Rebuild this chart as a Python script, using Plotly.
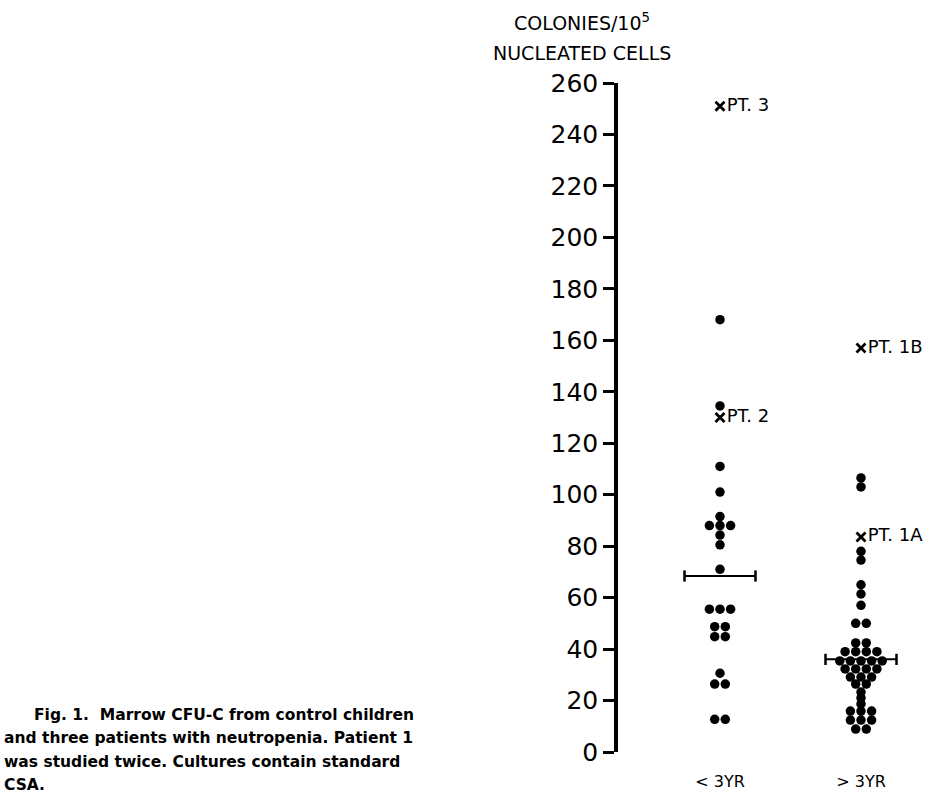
import plotly.graph_objects as go

# ---------------- data ----------------
categories = ["< 3YR", "> 3YR"]
under3_values = [168, 134.5, 111, 101, 91.5, 88, 88, 88, 84.3, 80.5, 71,
                 55.5, 55.5, 55.5, 48.7, 48.7, 44.8, 44.8, 30.6, 26.4, 26.4,
                 12.7, 12.7]
over3_values = [106.5, 103, 78, 74.6, 65, 61.4, 57, 50, 50, 42.4, 42.4,
                39, 39, 39, 39, 35.4, 35.4, 35.4, 35.4, 35.4,
                32.3, 32.3, 32.3, 32.3, 29.1, 29.1, 29.1, 26.4, 26.4,
                23.3, 21, 18.7, 15.9, 15.9, 15.9, 12.4, 12.4, 12.4, 8.9, 8.9]
group_means = [68.4, 36.0]
patient_labels = ["PT. 3", "PT. 2", "PT. 1B", "PT. 1A"]
patient_groups = [0, 0, 1, 1]
patient_values = [251, 130, 157, 83.6]
y_ticks = list(range(0, 261, 20))
y_title_lines = ["COLONIES/10<sup>5</sup>", "NUCLEATED CELLS"]
caption_lines = [
    "Fig. 1.  Marrow CFU-C from control children",
    "and three patients with neutropenia. Patient 1",
    "was studied twice. Cultures contain standard",
    "CSA.",
]

# ---------------- layout constants ----------------
W, H = 933, 796
ML, MR, MT, MB = 618, 10, 83, 44
PLOT_W = W - ML - MR
PLOT_H = H - MT - MB
PX_PER_UNIT = 141.0          # horizontal px between the two groups
X0_PX = 102.0                # px from plot left edge to group 0
X_RANGE = [-X0_PX / PX_PER_UNIT, (PLOT_W - X0_PX) / PX_PER_UNIT]
DOT_SPACING = 10.6 / PX_PER_UNIT
MEAN_HALF = 35.5 / PX_PER_UNIT
FONT = "DejaVu Sans"


def px_to_paper(px, py):
    return (px - ML) / PLOT_W, (H - MB - py) / PLOT_H


def row_offsets(values):
    """Place equal values side by side in a centred row."""
    counts = {}
    for v in values:
        counts[v] = counts.get(v, 0) + 1
    seen = {}
    offs = []
    for v in values:
        i = seen.get(v, 0)
        seen[v] = i + 1
        offs.append((i - (counts[v] - 1) / 2.0) * DOT_SPACING)
    return offs


fig = go.Figure()

for gi, vals in enumerate([under3_values, over3_values]):
    offs = row_offsets(vals)
    fig.add_trace(go.Scatter(
        x=[gi + o for o in offs], y=vals, mode="markers",
        marker=dict(size=9.5, color="black", line=dict(width=0)),
        showlegend=False, hoverinfo="y"))

for gi, m in enumerate(group_means):
    fig.add_trace(go.Scatter(
        x=[gi - MEAN_HALF, gi + MEAN_HALF], y=[m, m], mode="lines+markers",
        line=dict(color="black", width=2),
        marker=dict(symbol="line-ns", size=8, line=dict(width=2.5, color="black")),
        showlegend=False, hoverinfo="y"))

fig.add_trace(go.Scatter(
    x=patient_groups, y=patient_values, mode="markers+text",
    text=patient_labels, textposition="middle right",
    textfont=dict(family=FONT, size=18, color="black"),
    marker=dict(symbol="x-thin", size=9, line=dict(width=2.8, color="black")),
    showlegend=False, hoverinfo="text+y", cliponaxis=False))

annotations = []
for txt, py in zip(y_title_lines, [22, 53]):
    xp, yp = px_to_paper(582, py)
    annotations.append(dict(
        text=txt, x=xp, y=yp, xref="paper", yref="paper",
        xanchor="center", yanchor="middle", showarrow=False,
        font=dict(family=FONT, size=19, color="black")))

for txt, px, py in zip(caption_lines, [32, 2, 2, 2], [715, 738, 762, 785]):
    xp, yp = px_to_paper(px, py)
    annotations.append(dict(
        text=txt, x=xp, y=yp, xref="paper", yref="paper",
        xanchor="left", yanchor="middle", showarrow=False,
        font=dict(family=FONT, size=15.5, color="black", weight="bold")))

fig.update_layout(
    width=W, height=H,
    margin=dict(l=ML, r=MR, t=MT, b=MB, pad=0, autoexpand=False),
    paper_bgcolor="white", plot_bgcolor="white",
    showlegend=False,
    annotations=annotations,
    xaxis=dict(
        range=X_RANGE, tickvals=[0, 1], ticktext=categories,
        showline=False, showgrid=False, zeroline=False, ticks="",
        automargin=False,
        ticklabelstandoff=18,
        tickfont=dict(family=FONT, size=16, color="black")),
    yaxis=dict(
        range=[0, 260], tickvals=y_ticks, ticktext=[str(t) for t in y_ticks],
        showline=True, linewidth=3.5, linecolor="black",
        ticks="outside", ticklen=11, tickwidth=2.5, tickcolor="black",
        showgrid=False, zeroline=False, automargin=False,
        tickfont=dict(family=FONT, size=25, color="black")),
)

fig.write_html(
    "out.html",
    config={"displayModeBar": False},
    post_script="document.body.style.margin='0px';"
                "document.body.style.overflow='hidden';")
